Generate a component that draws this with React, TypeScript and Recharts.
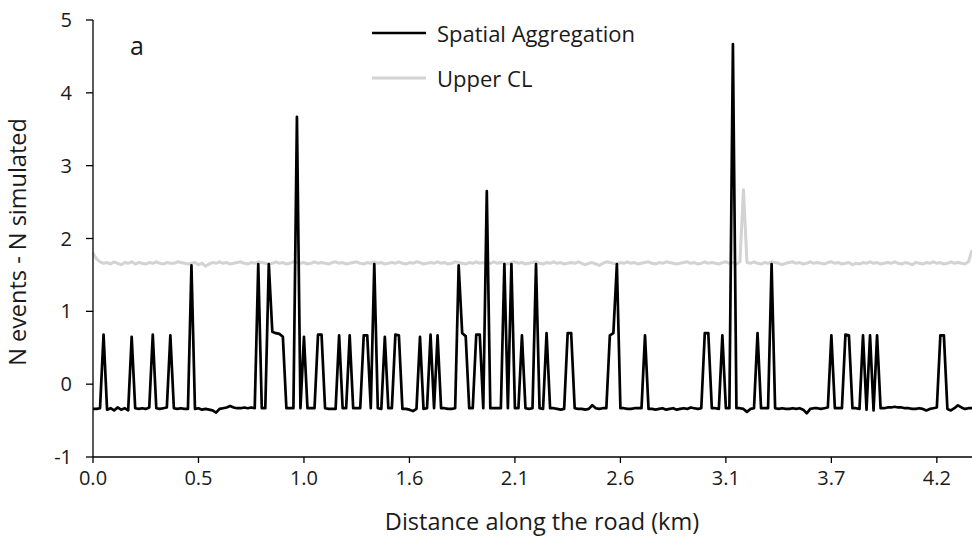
import { LineChart, Line, XAxis, YAxis, Legend, Label } from "recharts";

const FONT = '"Open Sans", sans-serif';

// one value per road segment (30 segments between axis labels)
const SPATIAL_AGGREGATION = [
  -0.34, -0.34, -0.33, 0.68, -0.35, -0.33, -0.36, -0.32, -0.35, -0.33,
  -0.36, 0.65, -0.33, -0.34, -0.33, -0.34, -0.32, 0.68, -0.33, -0.34,
  -0.33, -0.32, 0.67, -0.33, -0.34, -0.33, -0.34, -0.34, 1.63, -0.34,
  -0.33, -0.35, -0.34, -0.35, -0.36, -0.39, -0.34, -0.33, -0.32, -0.3,
  -0.32, -0.33, -0.33, -0.32, -0.33, -0.32, -0.33, 1.65, -0.33, -0.33,
  1.65, 0.72, 0.7, 0.69, 0.65, -0.33, -0.33, -0.33, 3.67, -0.33,
  0.65, -0.33, -0.33, -0.33, 0.68, 0.68, -0.33, -0.34, -0.34, -0.34,
  0.67, -0.33, -0.33, 0.67, -0.33, -0.33, -0.33, 0.67, 0.67, -0.33,
  1.65, -0.33, -0.34, 0.65, -0.33, -0.33, 0.68, 0.67, -0.34, -0.34,
  -0.35, -0.37, -0.34, 0.65, -0.34, -0.33, 0.68, -0.33, 0.67, -0.33,
  -0.33, -0.34, -0.34, -0.33, 1.63, 0.7, 0.66, -0.33, -0.33, 0.68,
  0.68, -0.33, 2.65, -0.33, -0.33, -0.33, -0.33, 1.65, -0.33, 1.65,
  -0.33, -0.33, 0.67, -0.33, -0.34, -0.33, 1.65, -0.33, -0.34, 0.7,
  -0.33, -0.33, -0.34, -0.35, -0.34, 0.7, 0.7, -0.33, -0.34, -0.34,
  -0.35, -0.34, -0.29, -0.33, -0.34, -0.33, -0.33, 0.67, 0.7, 1.65,
  -0.33, -0.33, -0.34, -0.34, -0.33, -0.33, -0.33, 0.67, -0.34, -0.34,
  -0.35, -0.34, -0.33, -0.35, -0.34, -0.33, -0.35, -0.34, -0.33, -0.34,
  -0.32, -0.33, -0.34, -0.33, 0.7, 0.7, -0.33, -0.33, -0.34, 0.67,
  -0.33, -0.33, 4.67, -0.33, -0.33, -0.34, -0.38, -0.34, -0.33, 0.7,
  -0.33, -0.33, -0.33, 1.65, -0.33, -0.34, -0.33, -0.34, -0.34, -0.33,
  -0.34, -0.33, -0.35, -0.4, -0.34, -0.33, -0.33, -0.34, -0.33, -0.32,
  0.67, -0.33, -0.33, -0.33, 0.68, 0.67, -0.33, -0.33, -0.34, 0.67,
  -0.35, 0.67, -0.36, 0.67, -0.33, -0.33, -0.32, -0.32, -0.31, -0.32,
  -0.32, -0.33, -0.33, -0.34, -0.34, -0.33, -0.34, -0.36, -0.34, -0.33,
  -0.32, 0.67, 0.67, -0.34, -0.36, -0.33, -0.29, -0.32, -0.34, -0.33,
  -0.33,
];

const UPPER_CL = [
  1.8, 1.72, 1.68, 1.66, 1.67, 1.65, 1.68, 1.66, 1.64, 1.67,
  1.66, 1.68, 1.65, 1.67, 1.66, 1.65, 1.67, 1.66, 1.68, 1.66,
  1.65, 1.67, 1.66, 1.66, 1.68, 1.67, 1.66, 1.65, 1.66, 1.67,
  1.64, 1.66, 1.62, 1.65, 1.67, 1.66, 1.68, 1.66, 1.67, 1.65,
  1.66, 1.67, 1.68, 1.66, 1.65, 1.67, 1.66, 1.68, 1.67, 1.66,
  1.65, 1.66, 1.68, 1.66, 1.67, 1.65, 1.66, 1.68, 1.67, 1.66,
  1.67, 1.65, 1.66, 1.68, 1.66, 1.67, 1.66, 1.65, 1.67, 1.68,
  1.66, 1.67, 1.65, 1.66, 1.67, 1.68, 1.66, 1.65, 1.67, 1.66,
  1.68, 1.66, 1.67, 1.65, 1.66, 1.67, 1.66, 1.68, 1.66, 1.65,
  1.67, 1.66, 1.68, 1.67, 1.65, 1.66, 1.67, 1.66, 1.68, 1.66,
  1.67, 1.65, 1.66, 1.68, 1.67, 1.66, 1.65, 1.67, 1.66, 1.68,
  1.66, 1.67, 1.65, 1.66, 1.68, 1.66, 1.67, 1.66, 1.65, 1.67,
  1.68, 1.66, 1.67, 1.65, 1.66, 1.67, 1.68, 1.66, 1.65, 1.67,
  1.66, 1.68, 1.66, 1.67, 1.65, 1.66, 1.67, 1.66, 1.68, 1.66,
  1.64, 1.66, 1.67, 1.65, 1.63, 1.66, 1.68, 1.67, 1.66, 1.65,
  1.67, 1.66, 1.68, 1.66, 1.67, 1.65, 1.66, 1.67, 1.68, 1.66,
  1.65, 1.67, 1.66, 1.68, 1.67, 1.66, 1.65, 1.66, 1.67, 1.68,
  1.66, 1.67, 1.65, 1.66, 1.68, 1.66, 1.67, 1.66, 1.65, 1.67,
  1.68, 1.66, 1.67, 1.65, 1.68, 2.67, 1.67, 1.66, 1.68, 1.66,
  1.65, 1.67, 1.66, 1.68, 1.67, 1.66, 1.64, 1.66, 1.67, 1.68,
  1.66, 1.67, 1.65, 1.66, 1.68, 1.66, 1.67, 1.66, 1.65, 1.67,
  1.68, 1.66, 1.67, 1.65, 1.66, 1.67, 1.64, 1.66, 1.65, 1.67,
  1.66, 1.68, 1.66, 1.67, 1.65, 1.66, 1.67, 1.66, 1.68, 1.66,
  1.65, 1.67, 1.66, 1.64, 1.67, 1.66, 1.65, 1.67, 1.66, 1.68,
  1.66, 1.67, 1.65, 1.66, 1.68, 1.66, 1.67, 1.66, 1.65, 1.68,
  1.84,
];

const X_TICKS = [0, 30, 60, 90, 120, 150, 180, 210, 240];
const X_TICK_LABELS = ["0.0", "0.5", "1.0", "1.6", "2.1", "2.6", "3.1", "3.7", "4.2"];
const Y_TICKS = [-1, 0, 1, 2, 3, 4, 5];
const LEGEND_ORDER = ["Spatial Aggregation", "Upper CL"];

const chartData = SPATIAL_AGGREGATION.map((v, i) => ({
  i,
  spatial: v,
  upper: UPPER_CL[i],
}));

function LegendContent({ payload }: any) {
  const items = [...(payload || [])].sort(
    (a: any, b: any) => LEGEND_ORDER.indexOf(a.value) - LEGEND_ORDER.indexOf(b.value)
  );
  return (
    <div style={{ fontFamily: FONT, fontSize: 22, color: "#1a1a1a" }}>
      {items.map((entry: any) => (
        <div key={entry.value} style={{ display: "flex", alignItems: "center", height: 45 }}>
          <svg width={54} height={6} style={{ marginRight: 11 }}>
            <line
              x1={0}
              y1={3}
              x2={54}
              y2={3}
              stroke={entry.color}
              strokeWidth={entry.value === "Upper CL" ? 3 : 2.7}
            />
          </svg>
          <span>{entry.value}</span>
        </div>
      ))}
    </div>
  );
}

export default function App() {
  return (
    <div style={{ position: "fixed", left: 0, top: 0, width: 972, height: 547, background: "#fff" }}>
      <LineChart
        width={972}
        height={547}
        data={chartData}
        margin={{ top: 20, right: 0, bottom: 10, left: 0 }}
      >
        <XAxis
          dataKey="i"
          type="number"
          domain={[0, 250]}
          ticks={X_TICKS}
          tickFormatter={(v: number) => X_TICK_LABELS[X_TICKS.indexOf(v)]}
          height={80}
          tickSize={6}
          tickMargin={8}
          axisLine={{ stroke: "#000", strokeWidth: 1.3 }}
          tickLine={{ stroke: "#000", strokeWidth: 1.3 }}
          tick={{ fill: "#1a1a1a", fontSize: 20, fontFamily: FONT }}
        >
          <Label
            content={() => (
              <text x={542} y={530} textAnchor="middle" fill="#1a1a1a" fontSize={23.5} fontFamily={FONT}>
                Distance along the road (km)
              </text>
            )}
          />
        </XAxis>
        <YAxis
          type="number"
          domain={[-1, 5]}
          ticks={Y_TICKS}
          width={93}
          tickSize={7}
          tickMargin={14}
          axisLine={{ stroke: "#000", strokeWidth: 1.3 }}
          tickLine={{ stroke: "#000", strokeWidth: 1.3 }}
          tick={{ fill: "#1a1a1a", fontSize: 20, fontFamily: FONT }}
        >
          <Label
            content={() => (
              <text
                x={26}
                y={242}
                transform="rotate(-90 26 242)"
                textAnchor="middle"
                fill="#1a1a1a"
                fontSize={23.5}
                fontFamily={FONT}
              >
                N events - N simulated
              </text>
            )}
          />
        </YAxis>
        <Legend
          layout="vertical"
          align="center"
          verticalAlign="middle"
          content={<LegendContent />}
          wrapperStyle={{ top: 10, left: 372, width: 320 }}
        />
        <Line
          dataKey="upper"
          name="Upper CL"
          type="linear"
          stroke="#d3d3d3"
          strokeWidth={3}
          strokeLinejoin="round"
          dot={false}
          isAnimationActive={false}
        />
        <Line
          dataKey="spatial"
          name="Spatial Aggregation"
          type="linear"
          stroke="#000"
          strokeWidth={2.7}
          strokeLinejoin="round"
          dot={false}
          isAnimationActive={false}
        />
      </LineChart>
      <div
        style={{
          position: "absolute",
          left: 130,
          top: 28,
          fontFamily: FONT,
          fontSize: 25,
          color: "#1a1a1a",
        }}
      >
        a
      </div>
    </div>
  );
}
